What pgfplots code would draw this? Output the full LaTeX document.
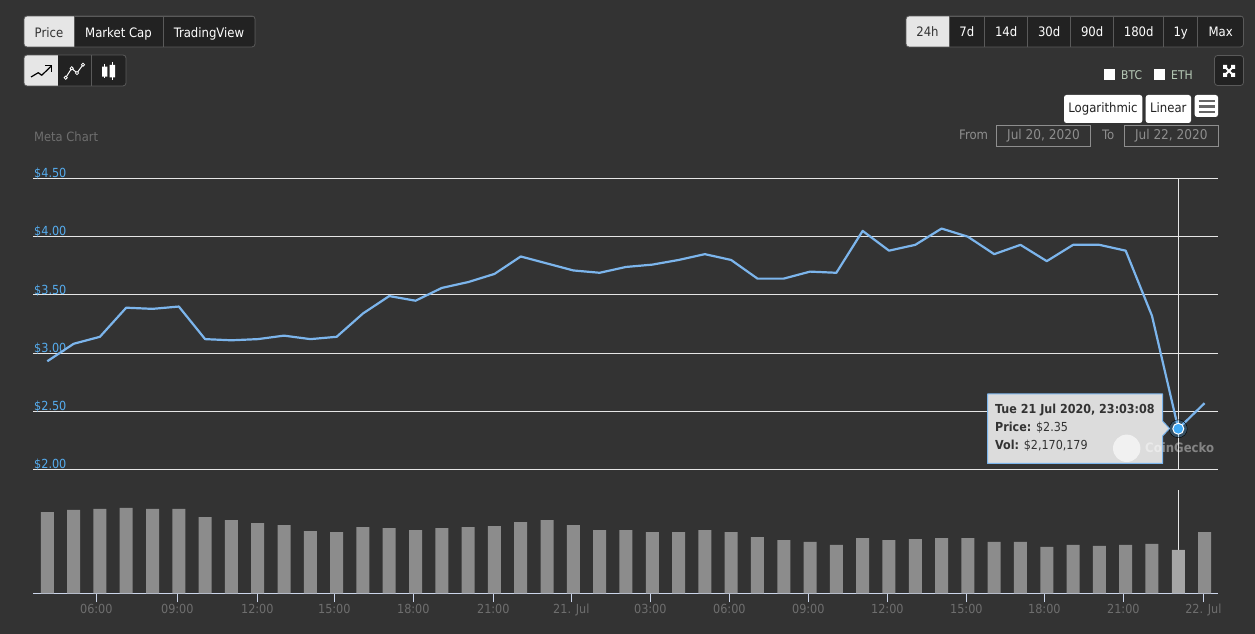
\documentclass[border=0pt]{standalone}
\usepackage{fontspec}
\setmainfont{DejaVu Sans Condensed}
\usepackage{pgfplots}
\pgfplotsset{compat=1.18}
\usepackage{pgfplotstable}
\definecolor{bg}{HTML}{333333}
\definecolor{btn}{HTML}{222222}
\definecolor{btnb}{HTML}{5A5A5A}
\definecolor{act}{HTML}{E6E6E6}
\definecolor{gridc}{HTML}{E6E6E6}
\definecolor{pline}{HTML}{7CB5EC}
\definecolor{ylab}{HTML}{55ACEE}
\definecolor{xlab}{HTML}{6E6E6E}
\definecolor{axl}{HTML}{CCD6EB}
\definecolor{barc}{HTML}{8C8C8C}
\definecolor{barh}{HTML}{A6A6A6}
\definecolor{pt}{HTML}{3FA9F5}
\definecolor{tip}{HTML}{DCDCDC}
\definecolor{lgd}{HTML}{B8CCB8}
\definecolor{dim}{HTML}{8E8E8E}
\pgfplotstableread{
i price vol
0 2.93 4.07
1 3.08 4.18
2 3.14 4.23
3 3.39 4.28
4 3.38 4.23
5 3.40 4.23
6 3.12 3.82
7 3.11 3.67
8 3.12 3.52
9 3.15 3.42
10 3.12 3.12
11 3.14 3.07
12 3.34 3.32
13 3.49 3.27
14 3.45 3.17
15 3.56 3.27
16 3.61 3.32
17 3.68 3.37
18 3.83 3.57
19 3.77 3.67
20 3.71 3.42
21 3.69 3.17
22 3.74 3.17
23 3.76 3.07
24 3.80 3.07
25 3.85 3.17
26 3.80 3.07
27 3.64 2.82
28 3.64 2.67
29 3.70 2.57
30 3.69 2.42
31 4.05 2.77
32 3.88 2.67
33 3.93 2.72
34 4.07 2.77
35 4.00 2.77
36 3.85 2.57
37 3.93 2.57
38 3.79 2.32
39 3.93 2.42
40 3.93 2.37
41 3.88 2.42
42 3.32 2.47
43 2.35 2.17
44 2.57 3.07
}\datatable
\newcommand{\fs}[1]{\fontsize{#1}{#1}\selectfont}
\newcommand{\seg}[6]{\draw[btnb,line width=.8pt,fill=btn] (#1,#3) rectangle (#2,#4);
  \node[anchor=base,inner sep=0pt,text=white,font=\fs{13}] at ({(#1+#2)/2},#6) {#5};}
\newcommand{\segA}[6]{\fill[act] (#1,#3) rectangle (#2,#4);
  \node[anchor=base,inner sep=0pt,text=bg,font=\fs{13}] at ({(#1+#2)/2},#6) {#5};}
\begin{document}
\begin{tikzpicture}
\fill[bg] (0,0) rectangle (1255pt,634pt);
\useasboundingbox (0,0) rectangle (1255pt,634pt);
% price axis
\begin{axis}[
  at={(33pt,164.5pt)},anchor=south west,scale only axis,width=1185pt,height=291pt,
  xmin=-0.544,xmax=44.51,ymin=2,ymax=4.5,
  axis line style={draw=none},
  xtick=\empty,
  ytick={2,2.5,3,3.5,4,4.5},
  yticklabels={\$2.00,\$2.50,\$3.00,\$3.50,\$4.00,\$4.50},
  ymajorgrids,
  grid style={gridc,line width=1pt},
  major tick length=0pt,
  y tick label style={anchor=base west,inner sep=0pt,xshift=1pt,yshift=0.8pt,text=ylab,font=\fs{12.5}},
  clip=false,
]
\addplot[no marks,gridc,line width=.8pt] coordinates {(43,2) (43,4.5)};
\addplot[no marks,pline,line width=2.2pt,line join=round] table[x=i,y=price] {\datatable};
\addplot[only marks,mark=*,mark size=9pt,mark options={draw=none,fill=pt,fill opacity=.25}] coordinates {(43,2.35)};
\addplot[only marks,mark=*,mark size=5.5pt,mark options={draw=white,line width=1pt,fill=pt}] coordinates {(43,2.35)};
\end{axis}
% volume axis
\begin{axis}[
  at={(33pt,40.7pt)},anchor=south west,scale only axis,width=1185pt,height=103pt,
  xmin=-0.544,xmax=44.51,ymin=0,ymax=5.16,
  axis x line=bottom,axis y line=none,
  x axis line style={axl,line width=1pt,-},
  xtick={1.863,4.943,7.985,10.913,13.916,16.958,19.924,22.928,25.932,28.935,31.939,34.943,37.909,40.913,43.954},
  xticklabels={06:00,09:00,12:00,15:00,18:00,21:00,21. Jul,03:00,06:00,09:00,12:00,15:00,18:00,21:00,22. Jul},
  x tick label style={text=xlab,font=\fs{12.5},inner sep=0pt,yshift=-2pt},
  xtick align=outside,
  xtick pos=bottom,
  major tick length=9pt,
  tick style={axl,line width=1pt},
  clip=false,
]
\addplot[no marks,gridc,line width=.8pt] coordinates {(43,0) (43,5.16)};
\addplot[ybar,bar width=13pt,bar shift=0pt,draw=none,fill=barc] table[x=i,y=vol] {\datatable};
\addplot[ybar,bar width=13pt,bar shift=0pt,draw=none,fill=barh] coordinates {(43,2.17)};
\end{axis}
\begin{scope}[x=1pt,y=-1pt,yshift=634pt]
% top-left group
\begin{scope}
\clip[rounded corners=3pt] (24,16) rectangle (255,47);
\segA{24}{74}{16}{47}{Price}{38}
\seg{74}{163}{16}{47}{Market Cap}{38}
\seg{163}{255}{16}{47}{TradingView}{38}
\end{scope}
\draw[btnb,line width=.8pt,rounded corners=3pt] (24,16) rectangle (255,47);
% icon group
\begin{scope}
\clip[rounded corners=3pt] (24,55) rectangle (126,86);
\fill[act] (24,55) rectangle (58,86);
\fill[btn] (58,55) rectangle (126,86);
\draw[btnb,line width=.8pt] (91.5,55)--(91.5,86);
\end{scope}
\draw[btnb,line width=.8pt,rounded corners=3pt] (24,55) rectangle (126,86);
\draw[black,line width=1.2pt,line join=round] (31,77)--(38.3,72.7)--(41.7,75.3)--(51.7,65.7);
\draw[black,line width=1.2pt] (45,65.7)--(51.7,65.7)--(51.7,71.7);
\draw[white,line width=1pt] (65.7,77.7)--(71.7,68.3)--(77,73)--(83,64.7);
\foreach \p/\q in {65.7/77.7,71.7/68.3,77/73,83/64.7}{\draw[white,fill=btn,line width=.8pt] (\p,\q) circle (1.6pt);}
\draw[white,line width=.8pt] (104.7,64)--(104.7,78) (112.3,62)--(112.3,80);
\fill[white] (102,66.7) rectangle (107.3,76.7) (109.7,65) rectangle (115,77.3);
% range group
\begin{scope}
\clip[rounded corners=3pt] (906,16) rectangle (1243.5,47);
\segA{906}{949}{16}{47}{24h}{37}
\seg{949}{984.7}{16}{47}{7d}{37}
\seg{984.7}{1027.7}{16}{47}{14d}{37}
\seg{1027.7}{1070.7}{16}{47}{30d}{37}
\seg{1070.7}{1113.7}{16}{47}{90d}{37}
\seg{1113.7}{1163.7}{16}{47}{180d}{37}
\seg{1163.7}{1197.7}{16}{47}{1y}{37}
\seg{1197.7}{1243.5}{16}{47}{Max}{37}
\end{scope}
\draw[btnb,line width=.8pt,rounded corners=3pt] (906,16) rectangle (1243.5,47);
% expand
\draw[btnb,line width=.8pt,fill=btn,rounded corners=3pt] (1214.5,55.5) rectangle (1243.5,85.5);
\draw[white,line width=2pt] (1224.5,66.5)--(1233.5,75.5) (1233.5,66.5)--(1224.5,75.5);
\fill[white] (1223,65) rectangle (1227,69) (1231,65) rectangle (1235,69) (1223,73) rectangle (1227,77) (1231,73) rectangle (1235,77);
% legend
\fill[white] (1104,69) rectangle (1115,80);
\node[anchor=base west,inner sep=0pt,text=lgd,font=\fs{12}] at (1121,80) {BTC};
\fill[white] (1154,69) rectangle (1165,80);
\node[anchor=base west,inner sep=0pt,text=lgd,font=\fs{12}] at (1171,80) {ETH};
% chart buttons
\fill[white,rounded corners=2.5pt] (1064,95) rectangle (1142.3,123);
\node[anchor=base,inner sep=0pt,text=btn,font=\fs{13}] at (1103,112.5) {Logarithmic};
\fill[white,rounded corners=2.5pt] (1145.7,95) rectangle (1191,123);
\node[anchor=base,inner sep=0pt,text=btn,font=\fs{13}] at (1168.3,112.5) {Linear};
\fill[white,rounded corners=2.5pt] (1194.7,95) rectangle (1218,117);
\draw[black!60,line width=2.4pt] (1198.5,101)--(1215,101) (1198.5,106.5)--(1215,106.5) (1198.5,112)--(1215,112);
% date range
\node[anchor=base west,inner sep=0pt,text=dim,font=\fs{13}] at (959,139.3) {From};
\draw[dim,line width=.8pt] (996.5,125.5) rectangle (1090.5,146.5);
\node[anchor=base,inner sep=0pt,text=dim,font=\fs{13.5}] at (1043.5,139.3) {Jul 20, 2020};
\node[anchor=base west,inner sep=0pt,text=dim,font=\fs{13}] at (1102,139.3) {To};
\draw[dim,line width=.8pt] (1124.5,125.5) rectangle (1218,146.5);
\node[anchor=base,inner sep=0pt,text=dim,font=\fs{13.5}] at (1171.3,139.3) {Jul 22, 2020};
\node[anchor=base west,inner sep=0pt,text=xlab,font=\fs{12.8}] at (34,142) {Meta Chart};
% tooltip
\draw[pline,line width=1pt,fill=tip,line join=round] (987.5,394)--(1162.5,394)--(1162.5,421)--(1169.5,428.5)--(1162.5,436)--(1162.5,463.5)--(987.5,463.5)--cycle;
\node[anchor=base west,inner sep=0pt,text=bg,font=\fs{12.4}\bfseries] at (995,414) {Tue 21 Jul 2020, 23:03:08};
\node[anchor=base west,inner sep=0pt,text=bg,font=\fs{12.4}] at (995,431.7) {\textbf{Price:} \$2.35};
\node[anchor=base west,inner sep=0pt,text=bg,font=\fs{12.4}] at (995,449.7) {\textbf{Vol:} \$2,170,179};
% watermark
\fill[white,opacity=.6] (1126.7,448.3) circle (13.7pt);
\node[anchor=west,inner sep=0pt,text=white,opacity=.4,font=\fs{13}\bfseries] at (1145,448) {CoinGecko};
\end{scope}
\end{tikzpicture}
\end{document}
